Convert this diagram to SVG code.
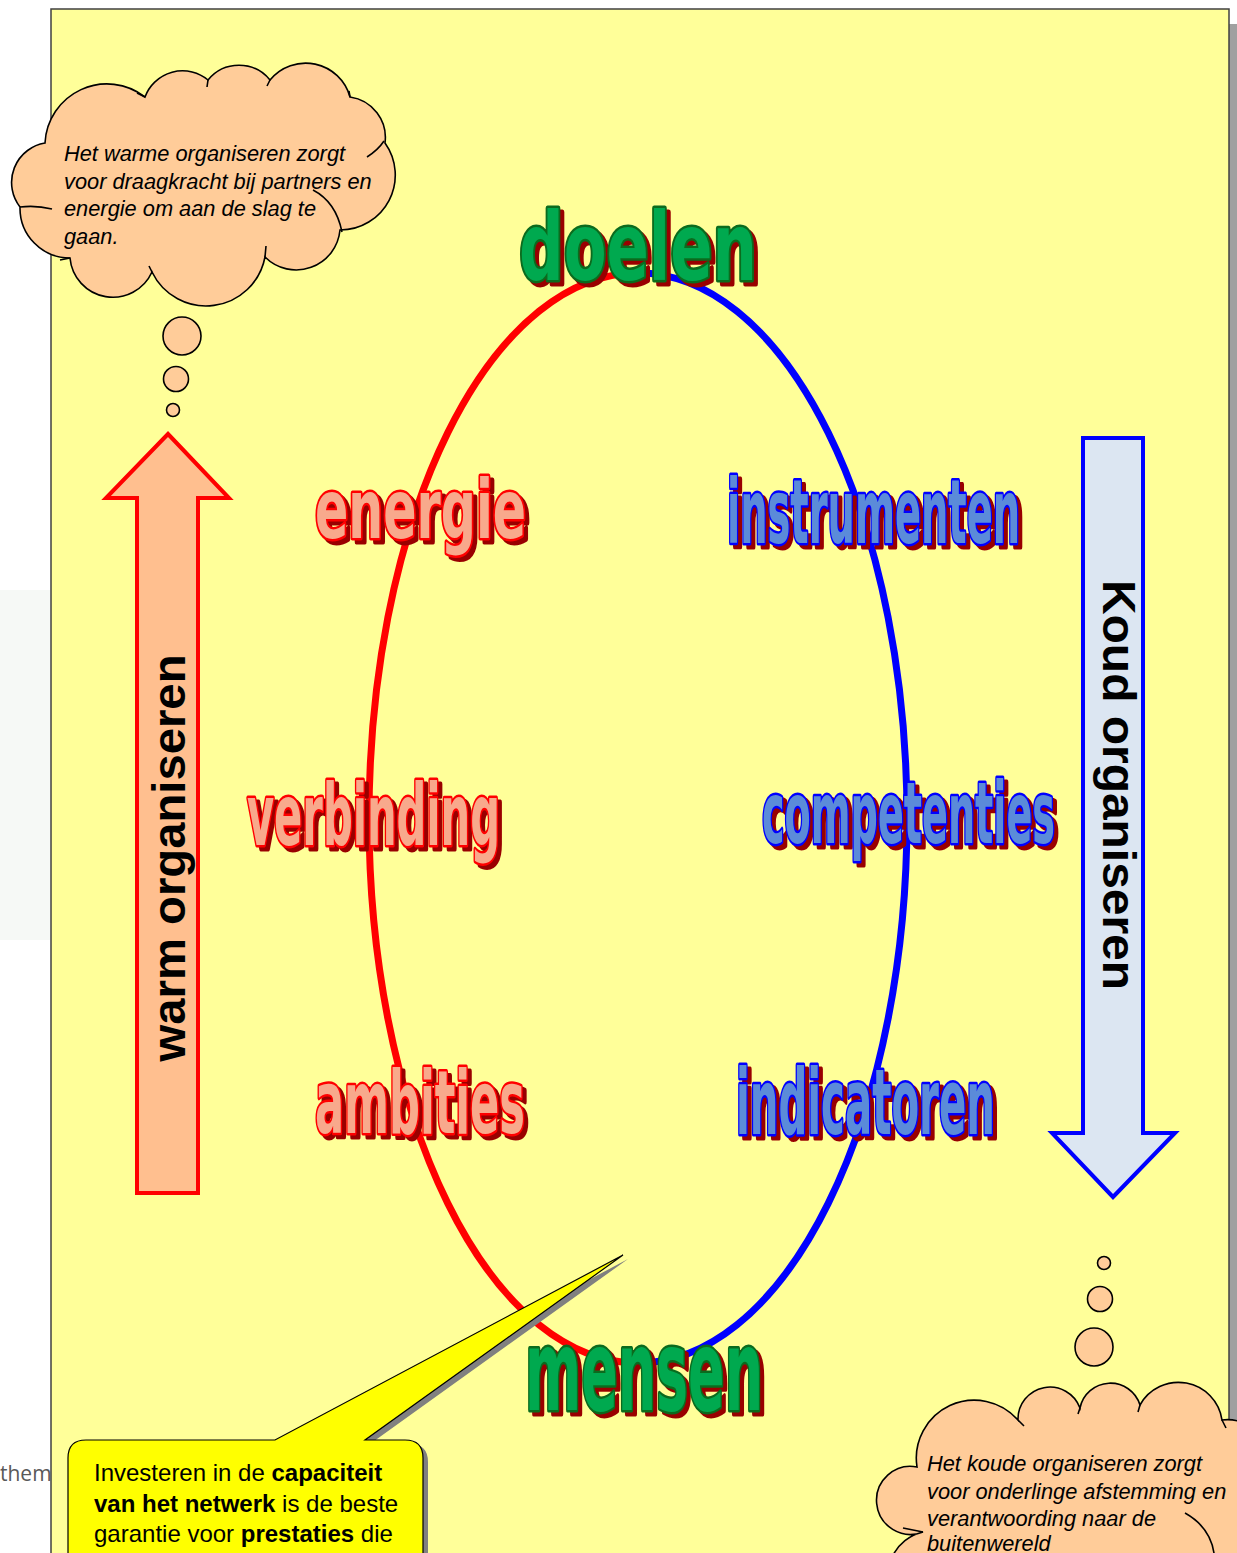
<svg xmlns="http://www.w3.org/2000/svg" xmlns:xlink="http://www.w3.org/1999/xlink" width="1237" height="1553" viewBox="0 0 1237 1553">
<style>
.lbl{font-family:'DejaVu Sans Condensed','DejaVu Sans',sans-serif;font-stretch:condensed;font-weight:bold;}
.shadow{fill:#990000;stroke:#990000;stroke-width:5;stroke-linejoin:round;}
.green{fill:#00A94F;stroke:#0B6B1E;stroke-width:5;stroke-linejoin:round;paint-order:stroke;}
.red{fill:#F8A98C;stroke:#FF0000;stroke-width:5;stroke-linejoin:round;paint-order:stroke;}
.blue{fill:#5B8BD9;stroke:#0000FF;stroke-width:5;stroke-linejoin:round;paint-order:stroke;}
.cloud{fill:#FFCC99;stroke:#000;stroke-width:1.6;}
.inner{fill:none;stroke:#000;stroke-width:1.6;}
.ctext{font-family:'Liberation Sans',Arial,sans-serif;font-style:italic;font-size:21.8px;fill:#000;}
.arrowtext{font-family:'Liberation Sans',Arial,sans-serif;font-weight:bold;font-size:47px;fill:#000;}
.calltext{font-family:'Liberation Sans',Arial,sans-serif;font-size:24px;fill:#000;}
</style>
<defs>
<text id="t-doelen" class="lbl" x="519" y="280" font-size="94" textLength="238" lengthAdjust="spacingAndGlyphs">doelen</text>
<text id="t-energie" class="lbl" x="315" y="538" font-size="82" textLength="211" lengthAdjust="spacingAndGlyphs">energie</text>
<text id="t-instrumenten" class="lbl" x="727" y="543" font-size="89" textLength="293" lengthAdjust="spacingAndGlyphs">instrumenten</text>
<text id="t-verbinding" class="lbl" x="247" y="845" font-size="86" textLength="253" lengthAdjust="spacingAndGlyphs">verbinding</text>
<text id="t-competenties" class="lbl" x="762" y="843" font-size="86" textLength="293" lengthAdjust="spacingAndGlyphs">competenties</text>
<text id="t-ambities" class="lbl" x="315" y="1133" font-size="88" textLength="210" lengthAdjust="spacingAndGlyphs">ambities</text>
<text id="t-indicatoren" class="lbl" x="736" y="1134" font-size="90" textLength="259" lengthAdjust="spacingAndGlyphs">indicatoren</text>
<text id="t-mensen" class="lbl" x="525" y="1410" font-size="112" textLength="238" lengthAdjust="spacingAndGlyphs">mensen</text>
</defs>

<rect x="0" y="0" width="1237" height="1553" fill="#FFFFFF"/>
<rect x="0" y="590" width="50" height="350" fill="#F6F9F6"/>
<text x="0" y="1481" font-family="'Open Sans','Noto Sans',sans-serif" font-size="21" fill="#595959">thema</text>

<g id="page">
<rect x="59" y="24" width="1178" height="1600" fill="#A0A0A0"/>
<rect x="51" y="9" width="1178" height="1600" fill="#FFFF99" stroke="#404040" stroke-width="1.5"/>
</g>

<g id="connectors">
<path d="M 638 273 A 269 545 0 0 0 638 1363" fill="none" stroke="#FF0000" stroke-width="7"/>
<path d="M 638 273 A 269 545 0 0 1 638 1363" fill="none" stroke="#0000FF" stroke-width="7"/>
</g>

<g id="warm-arrow">
<path d="M 168 434 L 229 498 L 198 498 L 198 1193 L 137 1193 L 137 498 L 106 498 Z" fill="#FFBF8F" stroke="#FF0000" stroke-width="4"/>
<text class="arrowtext" transform="translate(185 858) rotate(-90)" text-anchor="middle" textLength="407" lengthAdjust="spacingAndGlyphs">warm organiseren</text>
</g>

<g id="koud-arrow">
<path d="M 1083 438 L 1143 438 L 1143 1133 L 1175 1133 L 1113 1197 L 1052 1133 L 1083 1133 Z" fill="#DCE6F2" stroke="#0000FF" stroke-width="4"/>
<text class="arrowtext" transform="translate(1103 785) rotate(90)" text-anchor="middle" textLength="410" lengthAdjust="spacingAndGlyphs">Koud organiseren</text>
</g>

<g id="cloud-warm">
<path class="cloud" d="M 45 143 A 62 62 0 0 1 145 97 A 40 40 0 0 1 208 80 A 40 40 0 0 1 270 80 A 46 46 0 0 1 350 97 A 41 41 0 0 1 385 143 A 55 55 0 0 1 340 230 A 44 44 0 0 1 265 257 A 60 60 0 0 1 152 272 A 43 43 0 0 1 70 258 A 50 50 0 0 1 20 207 A 40 40 0 0 1 45 143 Z"/>
<path class="inner" d="M 313 190 Q 336 202 342 232 M 20 207 Q 36 205 52 209 M 367 157 Q 378 150 384 141 M 60 260 L 70 258 M 265 257 L 266 246 M 152 272 L 149 266 M 208 80 L 207 87 M 270 80 L 267 86 M 145 97 L 137 93 M 350 97 L 349 91"/>
<text class="ctext"><tspan x="64" y="161">Het warme organiseren zorgt</tspan><tspan x="64" y="188.5">voor draagkracht bij partners en</tspan><tspan x="64" y="216">energie om aan de slag te</tspan><tspan x="64" y="243.5">gaan.</tspan></text>
<circle class="cloud" cx="182" cy="336" r="19"/>
<circle class="cloud" cx="176" cy="379" r="12.5"/>
<circle class="cloud" cx="173" cy="410" r="6.5"/>
</g>

<g id="cloud-koud">
<circle class="cloud" cx="1104" cy="1263" r="6.5"/>
<circle class="cloud" cx="1100" cy="1299" r="12.5"/>
<circle class="cloud" cx="1094" cy="1347" r="19"/>
<path class="cloud" d="M 917 1467 A 58 58 0 0 1 1018 1420 A 32 32 0 0 1 1080 1408 A 31 31 0 0 1 1140 1405 A 44 44 0 0 1 1222 1420 A 40 40 0 0 1 1262 1480 L 1262 1600 L 895 1600 A 45 45 0 0 1 923 1532 A 34 34 0 1 1 917 1467 Z"/>
<path class="inner" d="M 903 1528 L 923 1532 M 1185 1513 Q 1210 1527 1214 1553 M 1018 1420 L 1024 1426 M 1080 1408 L 1078 1414 M 1140 1405 L 1138 1412 M 1222 1420 L 1226 1428"/>
<text class="ctext"><tspan x="927" y="1471">Het koude organiseren zorgt</tspan><tspan x="927" y="1498.5">voor onderlinge afstemming en</tspan><tspan x="927" y="1526">verantwoording naar de</tspan><tspan x="927" y="1551">buitenwereld</tspan></text>
</g>

<g id="label-doelen"><use xlink:href="#t-doelen" class="shadow" transform="translate(4 4)"/><use xlink:href="#t-doelen" class="green"/></g>
<g id="label-energie"><use xlink:href="#t-energie" class="shadow" transform="translate(4 4)"/><use xlink:href="#t-energie" class="red"/></g>
<g id="label-instrumenten"><use xlink:href="#t-instrumenten" class="shadow" transform="translate(4 4)"/><use xlink:href="#t-instrumenten" class="blue"/></g>
<g id="label-verbinding"><use xlink:href="#t-verbinding" class="shadow" transform="translate(4 4)"/><use xlink:href="#t-verbinding" class="red"/></g>
<g id="label-competenties"><use xlink:href="#t-competenties" class="shadow" transform="translate(4 4)"/><use xlink:href="#t-competenties" class="blue"/></g>
<g id="label-ambities"><use xlink:href="#t-ambities" class="shadow" transform="translate(4 4)"/><use xlink:href="#t-ambities" class="red"/></g>
<g id="label-indicatoren"><use xlink:href="#t-indicatoren" class="shadow" transform="translate(4 4)"/><use xlink:href="#t-indicatoren" class="blue"/></g>
<g id="label-mensen"><use xlink:href="#t-mensen" class="shadow" transform="translate(4 4)"/><use xlink:href="#t-mensen" class="green"/></g>

<g id="callout">
<path d="M 86 1440 L 275 1440 L 623 1255 L 365 1440 L 405 1440 Q 423 1440 423 1458 L 423 1600 L 68 1600 L 68 1458 Q 68 1440 86 1440 Z" fill="#808080" transform="translate(5 4)"/>
<path d="M 86 1440 L 275 1440 L 623 1255 L 365 1440 L 405 1440 Q 423 1440 423 1458 L 423 1600 L 68 1600 L 68 1458 Q 68 1440 86 1440 Z" fill="#FFFF00" stroke="#000" stroke-width="1.2"/>
<text class="calltext"><tspan x="94" y="1481">Investeren in de <tspan font-weight="bold">capaciteit</tspan></tspan><tspan x="94" y="1512"><tspan font-weight="bold">van het netwerk</tspan> is de beste</tspan><tspan x="94" y="1542">garantie voor <tspan font-weight="bold">prestaties</tspan> die</tspan></text>
</g>
</svg>
